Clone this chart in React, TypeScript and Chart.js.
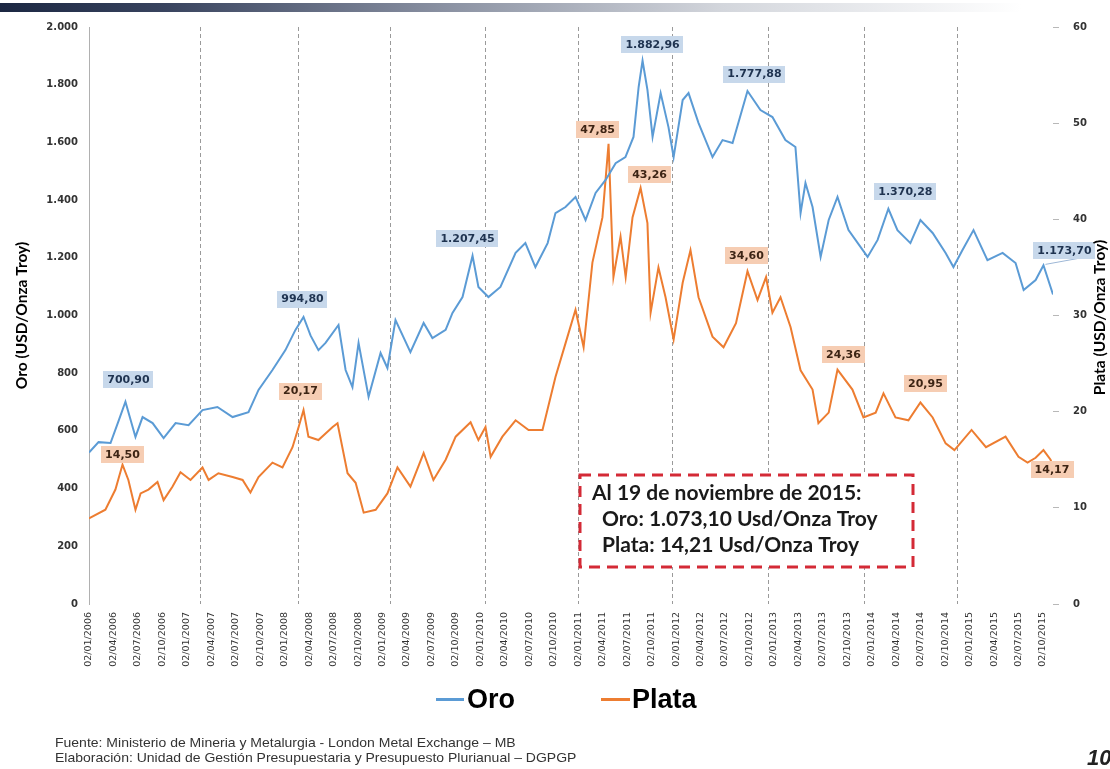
import React, { useEffect, useRef } from "react";
import { Chart, registerables } from "chart.js";

Chart.register(...registerables);

// ---------- DATA ----------
const quarterLabels = [
  "02/01/2006", "02/04/2006", "02/07/2006", "02/10/2006",
  "02/01/2007", "02/04/2007", "02/07/2007", "02/10/2007",
  "02/01/2008", "02/04/2008", "02/07/2008", "02/10/2008",
  "02/01/2009", "02/04/2009", "02/07/2009", "02/10/2009",
  "02/01/2010", "02/04/2010", "02/07/2010", "02/10/2010",
  "02/01/2011", "02/04/2011", "02/07/2011", "02/10/2011",
  "02/01/2012", "02/04/2012", "02/07/2012", "02/10/2012",
  "02/01/2013", "02/04/2013", "02/07/2013", "02/10/2013",
  "02/01/2014", "02/04/2014", "02/07/2014", "02/10/2014",
  "02/01/2015", "02/04/2015", "02/07/2015", "02/10/2015",
];

// x positions in quarters since 02/01/2006
const oroQ = [
  0, 0.39, 0.88, 1.21, 1.49, 1.9, 2.19, 2.6, 3.05, 3.54, 4.07, 4.64, 5.25, 5.87, 6.52, 6.93,
  7.5, 8.03, 8.44, 8.77, 9.06, 9.38, 9.67, 10.2, 10.49, 10.77, 11.02, 11.43, 11.92, 12.2,
  12.53, 13.14, 13.68, 14.04, 14.58, 14.86, 15.27, 15.68, 15.92, 16.33, 16.82, 17.44, 17.84,
  18.25, 18.75, 19.07, 19.48, 19.89, 20.3, 20.71, 21.12, 21.53, 21.93, 22.26, 22.47, 22.63,
  22.83, 23.04, 23.37, 23.69, 23.9, 24.27, 24.51, 24.92, 25.49, 25.9, 26.31, 26.92, 27.45,
  27.94, 28.47, 28.88, 29.09, 29.29, 29.58, 29.91, 30.24, 30.6, 31.05, 31.83, 32.24, 32.68,
  33.05, 33.58, 33.99, 34.49, 35.02, 35.34, 35.71, 36.16, 36.73, 37.35, 37.88, 38.21, 38.7,
  39.02, 39.41,
];
const oroValues = [
  525, 561, 558, 635, 701, 579, 648, 627, 575, 627, 620, 672, 683, 648, 665, 742,
  811, 880, 950, 995, 930, 880, 905, 967, 811, 752, 905, 718, 870, 818,
  984, 873, 974, 922, 950, 1009, 1064, 1207, 1099, 1064, 1099, 1217, 1251,
  1168, 1251, 1355, 1376, 1411, 1331, 1425, 1470, 1528, 1549, 1619, 1792, 1883,
  1782, 1619, 1771, 1653, 1549, 1747, 1771, 1667, 1549, 1608, 1598, 1778, 1712,
  1688, 1608, 1584, 1355, 1459, 1376, 1203, 1331, 1411, 1296, 1203, 1262, 1370,
  1296, 1251, 1331, 1286, 1217, 1168, 1227, 1296, 1192, 1217, 1182, 1088, 1123,
  1174, 1073,
];

const plataQ = [
  0, 0.67, 1.08, 1.37, 1.61, 1.9, 2.11, 2.43, 2.8, 3.05, 3.41, 3.74, 4.15, 4.64, 4.89, 5.29,
  5.87, 6.28, 6.6, 6.93, 7.5, 7.91, 8.32, 8.57, 8.77, 8.97, 9.38, 9.96, 10.16, 10.57, 10.9,
  11.23, 11.72, 12.2, 12.61, 13.14, 13.68, 14.08, 14.58, 14.99, 15.6, 15.92, 16.21, 16.42,
  16.9, 17.44, 17.97, 18.54, 19.07, 19.48, 19.89, 20.22, 20.58, 20.99, 21.24, 21.44, 21.73,
  21.94, 22.22, 22.55, 22.83, 22.96, 23.28, 23.57, 23.9, 24.27, 24.59, 24.92, 25.49, 25.94,
  26.45, 26.92, 27.33, 27.68, 27.94, 28.27, 28.68, 29.09, 29.58, 29.82, 30.24, 30.6, 31.21,
  31.66, 32.16, 32.48, 32.97, 33.5, 33.99, 34.49, 35.02, 35.38, 36.08, 36.67, 37.47, 38.0,
  38.37, 38.7, 39.02, 39.31, 39.41,
];
const plataValues = [
  8.9, 9.8, 11.9, 14.5, 12.9, 9.8, 11.5, 11.9, 12.7, 10.8, 12.2, 13.7, 12.9, 14.2, 12.9, 13.6,
  13.2, 12.9, 11.6, 13.2, 14.7, 14.2, 16.3, 18.4, 20.17, 17.4, 17.05, 18.4, 18.8, 13.6, 12.6,
  9.5, 9.8, 11.5, 14.2, 12.2, 15.7, 12.9, 15.0, 17.4, 18.9, 17.05, 18.4, 15.3,
  17.4, 19.1, 18.1, 18.1, 23.6, 27.1, 30.6, 26.7, 35.5, 40.2, 47.85, 34.0, 38.2,
  34.0, 40.2, 43.26, 39.6, 30.3, 35.0, 31.9, 27.5, 33.4, 36.8, 31.9, 27.8, 26.7,
  29.2, 34.6, 31.6, 34.0, 30.3, 31.9, 28.8, 24.3, 22.3, 18.8, 19.9, 24.36, 22.3,
  19.4, 19.9, 21.9, 19.4, 19.1, 20.95, 19.4, 16.7, 16.0, 18.1, 16.3, 17.4, 15.3,
  14.7, 15.2, 16.0, 15.0, 14.21,
];

const yearGridQ = [4.54, 8.54, 12.3, 16.19, 19.99, 23.83, 27.76, 31.68, 35.49];

const oroLabelQ = [1.49, 8.77, 15.68, 22.63, 26.92, 32.68, 39.02];
const oroLabelValues = [700.9, 994.8, 1207.45, 1882.96, 1777.88, 1370.28, 1173.7];
const plataLabelQ = [1.37, 8.77, 21.24, 22.55, 26.92, 30.6, 33.99, 39.41];
const plataLabelValues = [14.5, 20.17, 47.85, 43.26, 34.6, 24.36, 20.95, 14.17];

const noteLines = [
  "Al 19 de noviembre de 2015:",
  "Oro: 1.073,10 Usd/Onza Troy",
  "Plata: 14,21 Usd/Onza Troy",
];

// ---------- STYLE ----------
const X_MAX = 39.41;
const ORO_COLOR = "#5b9bd5";
const PLATA_COLOR = "#ed7d31";
const oroLabelOffsets = [[3, -22], [-1, -18], [-5, -17], [10, -16], [7, -17], [17, -17], [21, -15]];
const plataLabelOffsets = [[0, -10], [-3, -19], [-11, -14], [9, -13], [-1, -16], [6, -15], [5, -19], [-1, 2]];

function fmtThousands(intStr: string) {
  return intStr.replace(/\B(?=(\d{3})+(?!\d))/g, ".");
}
function fmt2(v: number) {
  const [i, d] = v.toFixed(2).split(".");
  return fmtThousands(i) + "," + d;
}

function drawTag(ctx: CanvasRenderingContext2D, cx: number, cy: number, text: string, fill: string, color: string) {
  ctx.font = 'bold 11px "DejaVu Sans"';
  const w = ctx.measureText(text).width + 8;
  const h = 17;
  ctx.fillStyle = fill;
  ctx.fillRect(Math.round(cx - w / 2), Math.round(cy - h / 2), Math.round(w), h);
  ctx.fillStyle = color;
  ctx.textAlign = "center";
  ctx.textBaseline = "middle";
  ctx.fillText(text, cx, cy + 0.5);
  return w;
}

const gridPlugin = {
  id: "yearGrid",
  beforeDatasetsDraw(chart: any) {
    const { ctx, chartArea, scales } = chart;
    ctx.save();
    ctx.strokeStyle = "#9a9a9a";
    ctx.lineWidth = 1;
    ctx.setLineDash([4, 3]);
    yearGridQ.forEach((q) => {
      const x = Math.round(scales.x.getPixelForValue(q)) + 0.5;
      ctx.beginPath();
      ctx.moveTo(x, chartArea.top);
      ctx.lineTo(x, chartArea.bottom);
      ctx.stroke();
    });
    ctx.restore();
  },
};

const tagsPlugin = {
  id: "tags",
  afterDatasetsDraw(chart: any) {
    const { ctx, scales } = chart;
    ctx.save();
    oroLabelQ.forEach((q, i) => {
      const px = scales.x.getPixelForValue(q);
      const py = scales.y.getPixelForValue(oroLabelValues[i]);
      const cx = px + oroLabelOffsets[i][0];
      const cy = py + oroLabelOffsets[i][1];
      if (i === oroLabelQ.length - 1) {
        ctx.strokeStyle = "#9db7d6";
        ctx.lineWidth = 1;
        ctx.beginPath();
        ctx.moveTo(px + 2, py - 1);
        ctx.lineTo(cx + 14, cy + 8);
        ctx.stroke();
      }
      drawTag(ctx, cx, cy, fmt2(oroLabelValues[i]), "#c7d8eb", "#1f3350");
    });
    plataLabelQ.forEach((q, i) => {
      const px = scales.x.getPixelForValue(q);
      const py = scales.y1.getPixelForValue(plataLabelValues[i]);
      drawTag(ctx, px + plataLabelOffsets[i][0], py + plataLabelOffsets[i][1], fmt2(plataLabelValues[i]), "#f6cdb3", "#3d2414");
    });
    ctx.restore();
  },
};

const notePlugin = {
  id: "note",
  afterDraw(chart: any) {
    const { ctx } = chart;
    ctx.save();
    ctx.fillStyle = "#ffffff";
    ctx.fillRect(580, 475, 333, 92);
    ctx.setLineDash([11, 7]);
    ctx.strokeStyle = "#d42a36";
    ctx.lineWidth = 3;
    ctx.strokeRect(580, 475, 333, 92);
    ctx.setLineDash([]);
    ctx.fillStyle = "#1a1a1a";
    ctx.font = 'bold 21px "Lato"';
    ctx.textAlign = "left";
    ctx.textBaseline = "alphabetic";
    ctx.fillText(noteLines[0], 592, 500);
    ctx.fillText(noteLines[1], 602, 526);
    ctx.fillText(noteLines[2], 602, 552);
    ctx.restore();
  },
};

const rightTitlePlugin = {
  id: "rightTitle",
  afterDraw(chart: any) {
    const { ctx, chartArea } = chart;
    ctx.save();
    ctx.translate(1100, (chartArea.top + chartArea.bottom) / 2 + 2);
    ctx.rotate(-Math.PI / 2);
    ctx.font = 'bold 15.5px "Lato"';
    ctx.fillStyle = "#000";
    ctx.textAlign = "center";
    ctx.textBaseline = "middle";
    ctx.fillText("Plata (USD/Onza Troy)", 0, 0);
    ctx.restore();
  },
};

export default function App() {
  const ref = useRef<HTMLCanvasElement>(null);

  useEffect(() => {
    if (!ref.current) return;
    const chart = new Chart(ref.current, {
      type: "line",
      data: {
        datasets: [
          {
            label: "Oro",
            data: oroQ.map((q, i) => ({ x: q, y: oroValues[i] })),
            borderColor: ORO_COLOR,
            borderWidth: 2,
            pointRadius: 0,
            tension: 0,
            yAxisID: "y",
          },
          {
            label: "Plata",
            data: plataQ.map((q, i) => ({ x: q, y: plataValues[i] })),
            borderColor: PLATA_COLOR,
            borderWidth: 2,
            pointRadius: 0,
            tension: 0,
            yAxisID: "y1",
          },
        ],
      },
      options: {
        responsive: false,
        animation: false,
        layout: { padding: { left: 0, right: 0, top: 27, bottom: 0 } },
        plugins: { legend: { display: false }, tooltip: { enabled: false } },
        scales: {
          x: {
            type: "linear",
            min: 0,
            max: X_MAX,
            afterBuildTicks: (s: any) => {
              s.ticks = quarterLabels.map((_, i) => ({ value: i }));
            },
            afterFit: (s: any) => {
              s.height = 165;
            },
            ticks: {
              autoSkip: false,
              maxRotation: 90,
              minRotation: 90,
              padding: 8,
              color: "#333333",
              font: { family: "DejaVu Sans", size: 9.5 },
              callback: (v: any) => quarterLabels[v] ?? "",
            },
            grid: { display: false, drawTicks: false },
            border: { display: false },
          },
          y: {
            position: "left",
            min: 0,
            max: 2000,
            afterFit: (s: any) => {
              s.width = 89;
            },
            ticks: {
              stepSize: 200,
              padding: 11,
              color: "#333333",
              font: { family: "DejaVu Sans", size: 10, weight: "bold" },
              callback: (v: any) => fmtThousands(String(v)),
            },
            grid: { display: false, drawTicks: false },
            border: { display: true, color: "#b0b0b0", width: 1 },
            title: {
              display: true,
              text: "Oro (USD/Onza Troy)",
              color: "#000",
              font: { family: "Lato", size: 15.5, weight: "bold" },
              padding: { top: 13, bottom: 0 },
            },
          },
          y1: {
            position: "right",
            min: 0,
            max: 60,
            afterFit: (s: any) => {
              s.width = 57;
            },
            ticks: {
              stepSize: 10,
              padding: 14,
              color: "#333333",
              font: { family: "DejaVu Sans", size: 10, weight: "bold" },
            },
            grid: { display: true, drawOnChartArea: false, drawTicks: true, tickLength: 6, color: "#b8b8b8" },
            border: { display: false },
          },
        },
      },
      plugins: [gridPlugin, tagsPlugin, notePlugin, rightTitlePlugin],
    } as any);
    return () => chart.destroy();
  }, []);

  const sans = '"Liberation Sans", Arial, sans-serif';

  return (
    <div style={{ position: "absolute", left: 0, top: 0, width: 1110, height: 769, overflow: "hidden", background: "#fff" }}>
      <div
        style={{
          position: "absolute",
          left: 0,
          top: 3,
          width: 1110,
          height: 9,
          background: "linear-gradient(to right, #1b2742 0%, #39445f 15%, #8a91a2 40%, #d3d6dc 65%, #ffffff 92%)",
        }}
      />
      <canvas ref={ref} width={1110} height={769} style={{ position: "absolute", left: 0, top: 0, width: 1110, height: 769 }} />
      {/* Legend */}
      <div style={{ position: "absolute", left: 436, top: 698, width: 28, height: 3, background: ORO_COLOR }} />
      <div style={{ position: "absolute", left: 467, top: 683, font: `bold 27px ${sans}`, color: "#000", lineHeight: "32px" }}>Oro</div>
      <div style={{ position: "absolute", left: 601, top: 698, width: 29, height: 3, background: PLATA_COLOR }} />
      <div style={{ position: "absolute", left: 632, top: 683, font: `bold 27px ${sans}`, color: "#000", lineHeight: "32px" }}>Plata</div>
      {/* Footer */}
      <div style={{ position: "absolute", left: 55, top: 735, font: `14px ${sans}`, color: "#333", lineHeight: "18px", whiteSpace: "nowrap", transform: "scaleY(0.85)", transformOrigin: "0 0" }}>
        Fuente: Ministerio de Mineria y Metalurgia - London Metal Exchange – MB
        <br />
        Elaboración: Unidad de Gestión Presupuestaria y Presupuesto Plurianual – DGPGP
      </div>
      <div style={{ position: "absolute", left: 1087, top: 745, font: `italic bold 22px ${sans}`, color: "#222", lineHeight: "26px" }}>10</div>
    </div>
  );
}
